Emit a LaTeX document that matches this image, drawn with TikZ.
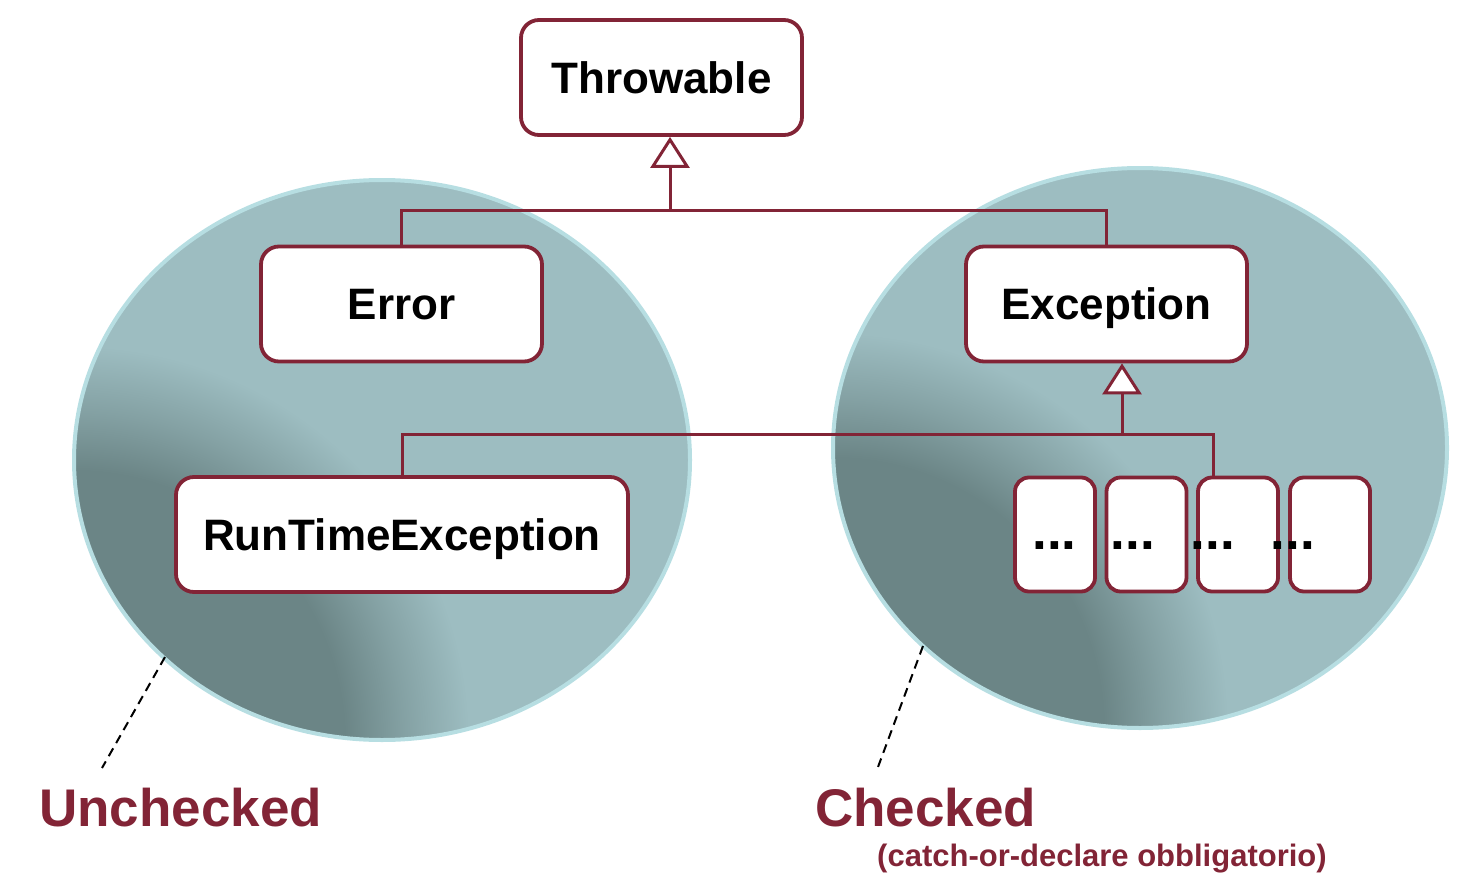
\documentclass[tikz,border=0pt]{standalone}
\usepackage{fontspec}
\setmainfont{Liberation Sans}
\usetikzlibrary{arrows.meta}
\definecolor{wine}{RGB}{130,36,54}
\definecolor{tealdark}{RGB}{107,133,134}
\definecolor{teallight}{RGB}{157,189,193}
\definecolor{rim}{RGB}{183,222,226}
\pgfdeclareradialshading{ellshade}{\pgfpoint{0bp}{0bp}}{%
  color(0bp)=(tealdark); color(16.9bp)=(tealdark);
  color(20.6bp)=(tealdark!50!teallight); color(24.7bp)=(teallight);
  color(50bp)=(teallight)}
\tikzset{
  cls/.style={draw=wine, line width=3.8pt, fill=white, rounded corners=18pt,
    minimum width=281pt, minimum height=115pt, inner sep=0pt,
    text height=31.5pt, text depth=0pt,
    font=\fontsize{44}{50}\selectfont\bfseries},
  smallbox/.style={cls, minimum width=80pt, minimum height=114pt, rounded corners=14pt},
  dots/.style={anchor=base, inner sep=0pt, font=\fontsize{53}{58}\selectfont\bfseries},
  conn/.style={draw=wine, line width=3pt},
  gen/.style={conn, -{Triangle[open, length=31pt, width=39pt, fill=white]}},
  leader/.style={draw=black, line width=2pt, dash pattern=on 9pt off 6pt},
  setlabel/.style={text=wine, anchor=base west, inner sep=0pt,
    font=\fontsize{53}{58}\selectfont\bfseries},
  note/.style={text=wine, anchor=base west, inner sep=0pt,
    font=\fontsize{31}{36}\selectfont\bfseries},
  rimline/.style={draw=rim, line width=4pt}
}
\begin{document}
\begin{tikzpicture}[x=1pt, y=-1pt]
\useasboundingbox (0,0) rectangle (1480,888);

% left ellipse (unchecked)
\begin{scope}
  \clip (382,460) ellipse [x radius=308pt, y radius=280pt];
  \fill[teallight] (60,170) rectangle (700,750);
  \shade[shading=ellshade] (74,741) circle [radius=400pt];
\end{scope}
\draw[rimline] (382,460) ellipse [x radius=308pt, y radius=280pt];

% right ellipse (checked)
\begin{scope}
  \clip (1140,448) ellipse [x radius=307pt, y radius=280pt];
  \fill[teallight] (820,160) rectangle (1460,740);
  \shade[shading=ellshade] (833,728) circle [radius=400pt];
\end{scope}
\draw[rimline] (1140,448) ellipse [x radius=307pt, y radius=280pt];

% classes
\node[cls] (thr) at (661.5,77.5) {Throwable};
\node[cls] (err) at (401.5,304) {Error};
\node[cls] (exc) at (1106.5,304) {Exception};
\node[cls, minimum width=452pt] (rte) at (402,534.5) {RunTimeException};
\node[smallbox] (b1) at (1055,534.5) {};
\node[smallbox] (b2) at (1146.5,534.5) {};
\node[smallbox] (b3) at (1238,534.5) {};
\node[smallbox] (b4) at (1330,534.5) {};
\node[dots] (d1) at (1054.5,549) {...};
\node[dots] (d2) at (1133,549) {...};
\node[dots] (d3) at (1213,549) {...};
\node[dots] (d4) at (1293,549) {...};

% generalisation connectors
\coordinate (jt) at (670,210);
\coordinate (je) at (1122,434);
\coordinate (e3) at (1213,434);
\draw[conn] (err.north) |- (jt) -| (exc.north);
\draw[gen] (jt) -- (jt |- thr.south);
\draw[conn] (rte.north) |- (je) -| (e3 |- b3.north);
\draw[gen] (je) -- (je |- exc.south);

% leaders and set labels
\coordinate (lu1) at (165,657);
\coordinate (lu2) at (102,768);
\coordinate (lc1) at (923,646);
\coordinate (lc2) at (878,767);
\draw[leader] (lu1) -- (lu2);
\draw[leader] (lc1) -- (lc2);
\node[setlabel] (unc) at (39,826) {Unchecked};
\node[setlabel] (chk) at (815,826) {Checked};
\node[note] (cod) at (877,866) {(catch-or-declare obbligatorio)};
\end{tikzpicture}
\end{document}
